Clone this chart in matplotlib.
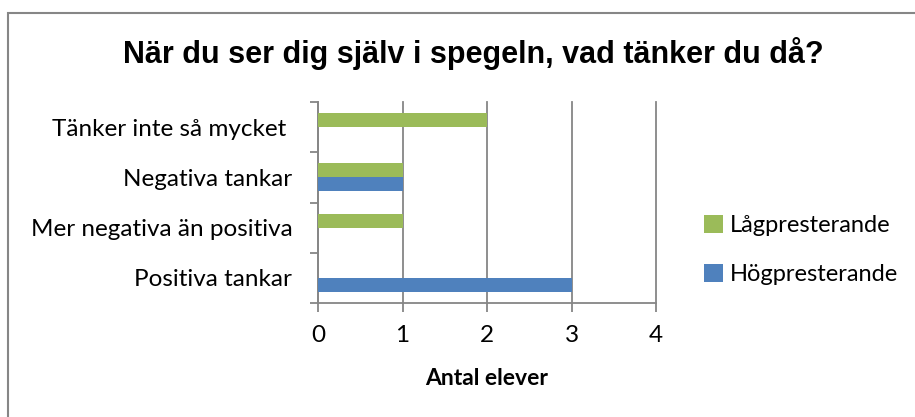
import numpy as np
import matplotlib
matplotlib.use("Agg")
import matplotlib.pyplot as plt
from matplotlib.patches import Rectangle

# ==================================================
# Data (bottom -> top, as drawn by barh)
# ==================================================
categories = [
    "Positiva tankar",
    "Mer negativa än positiva",
    "Negativa tankar",
    "Tänker inte så mycket ",
]
lag = [0, 1, 1, 2]   # Lågpresterande
hog = [3, 0, 1, 0]   # Högpresterande
x_ticks = [0, 1, 2, 3, 4]

GREEN = "#9BBB59"
BLUE = "#4F81BD"
GRAY = "#868686"

label_font = "Lato"

fig = plt.figure(figsize=(9.15, 4.17), dpi=100)
ax = fig.add_axes([318 / 915, 1 - 303 / 417, (656 - 318) / 915, (303 - 102) / 417])

y = np.arange(len(categories))
h = 0.28
ax.barh(y + h / 2, lag, height=h, color=GREEN, linewidth=0, label="Lågpresterande", zorder=3)
ax.barh(y - h / 2, hog, height=h, color=BLUE, linewidth=0, label="Högpresterande", zorder=3)

ax.set_xlim(0, 4)
ax.set_ylim(-0.5, len(categories) - 0.5)

# x axis + vertical grid
ax.set_xticks(x_ticks)
ax.set_xticklabels([str(v) for v in x_ticks], fontsize=17.5, family=label_font)
ax.tick_params(axis="x", length=6.5, width=1.3, color=GRAY, pad=9)
ax.grid(axis="x", color=GRAY, linewidth=1.3, zorder=1, clip_on=False)
ax.set_xlabel("Antal elever", fontsize=16.5, fontweight="bold", family=label_font, labelpad=16)

# y axis: labels at category centres, ticks at boundaries
ax.set_yticks(y)
ax.set_yticklabels(categories, fontsize=17.5, family=label_font)
ax.tick_params(axis="y", which="major", length=0, pad=18.5)
ax.set_yticks(np.arange(-0.5, len(categories), 1), minor=True)
ax.tick_params(axis="y", which="minor", length=6, width=1.3, color=GRAY)

for side in ["top", "right"]:
    ax.spines[side].set_visible(False)
for side in ["left", "bottom"]:
    ax.spines[side].set_color(GRAY)
    ax.spines[side].set_linewidth(1.3)

# legend (green first)
handles, labels = ax.get_legend_handles_labels()
fig.legend(
    handles, labels,
    loc="center left",
    bbox_to_anchor=(704 / 915, 1 - 250 / 417),
    frameon=False,
    borderpad=0,
    borderaxespad=0,
    prop={"family": label_font, "size": 17},
    handlelength=0.8,
    handleheight=0.8,
    handletextpad=0.3,
    labelspacing=1.2,
)

fig.suptitle(
    "När du ser dig själv i spegeln, vad tänker du då?",
    x=473 / 915, y=1 - 53 / 417, va="center",
    fontsize=22, fontweight="bold", family="Liberation Sans",
)

# outer chart border (runs off the right/bottom edge)
fig.patches.append(
    Rectangle((8 / 915, -0.1), 1.2, 1.1 - 13 / 417,
              transform=fig.transFigure, fill=False,
              edgecolor=GRAY, linewidth=1.5)
)

fig.savefig("out.png", dpi=100)
